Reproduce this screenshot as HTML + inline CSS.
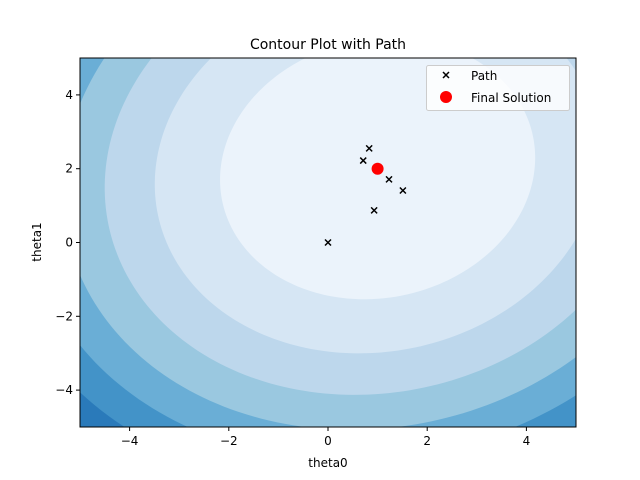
<!DOCTYPE html>
<html><head><meta charset="utf-8"><style>
html,body{margin:0;padding:0;background:#fff;width:640px;height:480px;overflow:hidden;font-family:"Liberation Sans","DejaVu Sans",sans-serif}
svg{display:block}
svg text{font-family:"DejaVu Sans","Liberation Sans",sans-serif}
</style></head><body>
<svg id="chart" width="640" height="480" viewBox="0 0 640 480">
<g id="bands"></g>
<g id="marks"></g>
<rect x="80" y="58" width="496" height="369" fill="none" stroke="#000" stroke-width="1"/>
<g id="axes"></g>
<text x="328" y="49" font-size="14" text-anchor="middle">Contour Plot with Path</text>
<text x="328" y="467" font-size="12" text-anchor="middle">theta0</text>
<text x="41" y="242" font-size="12" text-anchor="middle" transform="rotate(-90 41 242)">theta1</text>
<g>
<rect x="426.5" y="65.5" width="143" height="45" rx="2" fill="#fff" fill-opacity="0.8" stroke="#ccc"/>
<g>
<path d="M443 72 l6 6 M449 72 l-6 6" stroke="#000" stroke-width="1.5"/>
<text x="471" y="80" font-size="12">Path</text></g>
<g>
<circle cx="446" cy="97" r="6" fill="#ff0000"/>
<text x="471" y="102" font-size="12">Final Solution</text></g>
</g>
</svg>
<script>
const xTicks=[-4,-2,0,2,4];
const yTicks=[-4,-2,0,2,4];
const levels=[8,7,6,5,4,3,2,1];
const bandColors=["#1764ab","#2a7aba","#4393c8","#6aaed6","#9ac8e0","#bdd7ec","#d6e6f4","#ebf3fb"];
const center=[1.0,2.0];
const unitRadius=[3.2,3.5];
const pathX=[0,0.93,1.51,1.23,0.71,0.83];
const pathY=[0,0.87,1.41,1.71,2.22,2.55];
const finalX=[1.0];
const finalY=[2.0];
const NS="http://www.w3.org/2000/svg";
const sx=v=>328+v*49.6, sy=v=>242.5-v*36.9;
const L=80,R=576,T=58,B=427;
function clipPoly(pts){
 const edges=[[p=>p[0]>=L,(a,b)=>{const t=(L-a[0])/(b[0]-a[0]);return [L,a[1]+t*(b[1]-a[1])];}],
  [p=>p[0]<=R,(a,b)=>{const t=(R-a[0])/(b[0]-a[0]);return [R,a[1]+t*(b[1]-a[1])];}],
  [p=>p[1]>=T,(a,b)=>{const t=(T-a[1])/(b[1]-a[1]);return [a[0]+t*(b[0]-a[0]),T];}],
  [p=>p[1]<=B,(a,b)=>{const t=(B-a[1])/(b[1]-a[1]);return [a[0]+t*(b[0]-a[0]),B];}]];
 let out=pts;
 edges.forEach(([inside,inter])=>{
  const inp=out;out=[];
  for(let i=0;i<inp.length;i++){
   const cur=inp[i],prev=inp[(i+inp.length-1)%inp.length];
   if(inside(cur)){ if(!inside(prev)) out.push(inter(prev,cur)); out.push(cur);}
   else if(inside(prev)) out.push(inter(prev,cur));
  }
 });
 return out;
}
const bands=document.getElementById('bands');
const bg=document.createElementNS(NS,'rect');
bg.setAttribute('x',L);bg.setAttribute('y',T);bg.setAttribute('width',R-L);bg.setAttribute('height',B-T);bg.setAttribute('fill','#08519c');


bands.appendChild(bg);
const ang=-12*Math.PI/180;
levels.forEach((k,i)=>{
 const cx=sx(center[0]),cy=sy(center[1]);
 const rx=unitRadius[0]*49.6*Math.sqrt(k), ry=unitRadius[1]*36.9*Math.sqrt(k);
 const pts=[];
 for(let j=0;j<240;j++){
  const a=j/240*2*Math.PI;
  const ex=rx*Math.cos(a), ey=ry*Math.sin(a);
  pts.push([cx+ex*Math.cos(ang)-ey*Math.sin(ang), cy+ex*Math.sin(ang)+ey*Math.cos(ang)]);
 }
 const c=clipPoly(pts);
 if(c.length<3) return;
 const p=document.createElementNS(NS,'path');
 p.setAttribute('d','M'+c.map(q=>q[0].toFixed(2)+' '+q[1].toFixed(2)).join(' L')+'Z');
 p.setAttribute('fill',bandColors[i]);
 
 
 bands.appendChild(p);
});
const marks=document.getElementById('marks');
pathX.forEach((x,i)=>{
 const p=document.createElementNS(NS,'path');
 const X=sx(x),Y=sy(pathY[i]);
 p.setAttribute('d',`M${X-3} ${Y-3} L${X+3} ${Y+3} M${X+3} ${Y-3} L${X-3} ${Y+3}`);
 p.setAttribute('stroke','#000');p.setAttribute('stroke-width','1.5');
 
 
 marks.appendChild(p);
});
finalX.forEach((x,i)=>{
 const c=document.createElementNS(NS,'circle');
 c.setAttribute('cx',sx(x));c.setAttribute('cy',sy(finalY[i]));c.setAttribute('r',6);c.setAttribute('fill','#ff0000');
 
 
 marks.appendChild(c);
});
const axes=document.getElementById('axes');
xTicks.forEach(t=>{
 const g=document.createElementNS(NS,'g');
 
 
 g.innerHTML=`<line x1="${sx(t)}" x2="${sx(t)}" y1="427" y2="431" stroke="#000"/><text x="${sx(t)}" y="445" font-size="12" text-anchor="middle">${t<0?'\u2212'+(-t):t}</text>`;
 axes.appendChild(g);
});
yTicks.forEach(t=>{
 const g=document.createElementNS(NS,'g');
 
 
 g.innerHTML=`<line x1="76" x2="80" y1="${sy(t)}" y2="${sy(t)}" stroke="#000"/><text x="73" y="${sy(t)+4}" font-size="12" text-anchor="end">${t<0?'\u2212'+(-t):t}</text>`;
 axes.appendChild(g);
});
</script>
</body></html>
